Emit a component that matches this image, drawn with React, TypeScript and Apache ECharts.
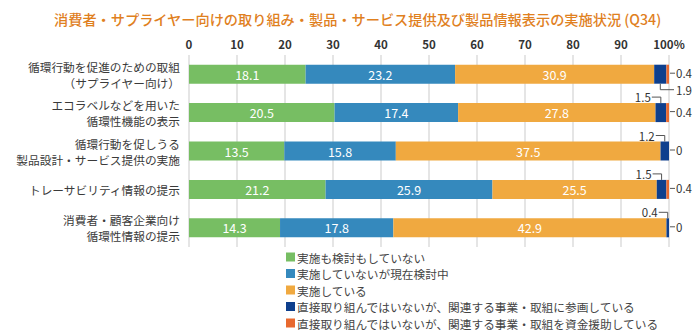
import React, { useEffect, useRef } from "react";
import * as echarts from "echarts";

const title = "消費者・サプライヤー向けの取り組み・製品・サービス提供及び製品情報表示の実施状況 (Q34)";
const categories = [
  "循環行動を促進のための取組\n（サプライヤー向け）",
  "エコラベルなどを用いた\n循環性機能の表示",
  "循環行動を促しうる\n製品設計・サービス提供の実施",
  "トレーサビリティ情報の提示",
  "消費者・顧客企業向け\n循環性情報の提示",
];
const seriesNames = [
  "実施も検討もしていない",
  "実施していないが現在検討中",
  "実施している",
  "直接取り組んではいないが、関連する事業・取組に参画している",
  "直接取り組んではいないが、関連する事業・取組を資金援助している",
];
const notDoing = [18.1, 20.5, 13.5, 21.2, 14.3];
const considering = [23.2, 17.4, 15.8, 25.9, 17.8];
const doing = [30.9, 27.8, 37.5, 25.5, 42.9];
const participating = [1.9, 1.5, 1.2, 1.5, 0.4];
const funding = [0.4, 0.4, 0, 0.4, 0];
const navyLabelBelow = [true, false, false, false, false];
const xTicks = [0, 10, 20, 30, 40, 50, 60, 70, 80, 90, 100];

const colors = ["#77BE63", "#3589BD", "#F0A940", "#0E3F8D", "#E8692F"];
const FONT = "'Noto Sans CJK JP', 'Noto Sans', sans-serif";

export default function App() {
  const ref = useRef<HTMLDivElement>(null);
  useEffect(() => {
    if (!ref.current) return;
    document.body.style.margin = "0";
    const chart = echarts.init(ref.current, null, { renderer: "svg" });
    const raw = [notDoing, considering, doing, participating, funding];
    const totals = categories.map((_, i) => raw.reduce((s, a) => s + a[i], 0));
    const norm = raw.map((arr) => arr.map((v, i) => (v / totals[i]) * 100));

    const barSeries = raw.map((arr, si) => ({
      type: "bar",
      name: seriesNames[si],
      stack: "total",
      barWidth: 19,
      itemStyle: { color: colors[si] },
      data: norm[si],
      label: {
        show: si < 3,
        position: "inside",
        color: "#fff",
        fontSize: 12.5,
        fontFamily: FONT,
        formatter: (p: any) => arr[p.dataIndex].toFixed(1),
      },
      emphasis: { disabled: true },
    }));

    const annotation = {
      type: "custom",
      coordinateSystem: "cartesian2d",
      clip: false,
      z: 10,
      silent: true,
      data: categories.map((_, i) => [100, i]),
      encode: { x: 0, y: 1 },
      renderItem: (params: any, api: any) => {
        const i = params.dataIndex;
        const half = 9.5;
        const end = api.coord([100, i]);
        const navyCenter =
          norm[0][i] + norm[1][i] + norm[2][i] + norm[3][i] / 2;
        const nc = api.coord([navyCenter, i]);
        const lineStyle = { stroke: "#555", lineWidth: 1, fill: "none" };
        const txt = (t: string, x: number, y: number, align: string) => ({
          type: "text",
          style: {
            text: t,
            x,
            y,
            align,
            verticalAlign: "middle",
            fill: "#333",
            fontSize: 11.5,
            fontFamily: FONT,
          },
        });
        const children: any[] = [];
        children.push({
          type: "line",
          shape: { x1: end[0] + 1, y1: end[1] - 1, x2: end[0] + 6, y2: end[1] - 1 },
          style: lineStyle,
        });
        children.push(txt(String(funding[i]), end[0] + 7, end[1] - 1, "left"));
        if (navyLabelBelow[i]) {
          const y = end[1] + half + 6;
          children.push({
            type: "polyline",
            shape: { points: [[nc[0], end[1] + half], [nc[0], y], [end[0] + 5, y]] },
            style: lineStyle,
          });
          children.push(txt(String(participating[i]), end[0] + 7, y, "left"));
        } else {
          const y = end[1] - half - 6;
          children.push({
            type: "polyline",
            shape: { points: [[nc[0] - 9, y], [nc[0], y], [nc[0], end[1] - half]] },
            style: lineStyle,
          });
          children.push(txt(String(participating[i]), nc[0] - 10, y, "right"));
        }
        return { type: "group", children };
      },
    };

    chart.setOption({
      animation: false,
      title: {
        text: title,
        left: 49,
        top: 7,
        textStyle: {
          color: "#E0801E",
          fontSize: 14.2,
          fontWeight: 500,
          fontFamily: FONT,
        },
      },
      grid: {
        left: 189,
        right: 31,
        top: 55,
        height: 192,
        containLabel: false,
        outerBoundsMode: "none",
      },
      xAxis: {
        type: "value",
        position: "top",
        min: 0,
        max: 100,
        interval: 10,
        axisLine: { show: false },
        axisTick: { show: false },
        axisLabel: {
          color: "#333",
          fontSize: 11.5,
          fontWeight: "bold",
          fontFamily: FONT,
          margin: 5,
          formatter: (v: number) => (v === 100 ? "100%" : xTicks.includes(v) ? String(v) : ""),
        },
        splitLine: { show: true, lineStyle: { color: "#DDDDDD", width: 1.5 } },
      },
      yAxis: {
        type: "category",
        inverse: true,
        data: categories,
        axisLine: { show: false },
        axisTick: { show: false },
        axisLabel: {
          color: "#3a3a3a",
          fontSize: 11.7,
          lineHeight: 16,
          fontFamily: FONT,
          margin: 9,
          align: "right",
        },
      },
      legend: {
        orient: "vertical",
        left: 286,
        top: 251,
        padding: 0,
        height: 90,
        itemWidth: 9,
        itemHeight: 9,
        itemGap: 4.5,
        icon: "rect",
        data: seriesNames,
        textStyle: { color: "#444", fontSize: 11.7, lineHeight: 12, fontFamily: FONT, padding: [0, 0, 0, -3] },
      },
      series: [...barSeries, annotation],
    } as any);
    return () => chart.dispose();
  }, []);
  return <div ref={ref} style={{ width: 700, height: 335 }} />;
}
